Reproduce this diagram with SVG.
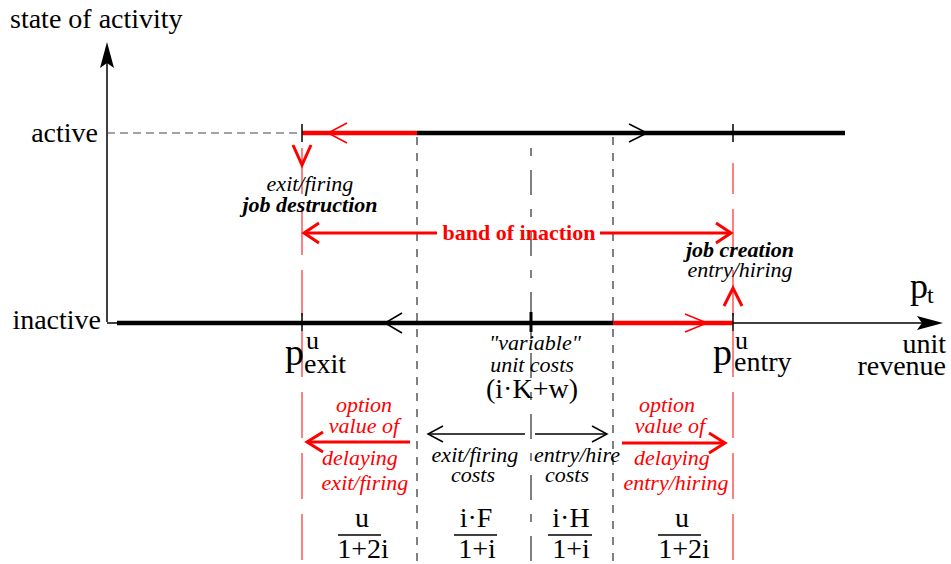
<svg xmlns="http://www.w3.org/2000/svg" width="951" height="564" viewBox="0 0 951 564">
<style>
text{font-family:"Liberation Serif","Times New Roman",serif;fill:#000}
.big{font-size:28px}
.it{font-size:22px;font-style:italic}
.bi{font-size:22px;font-style:italic;font-weight:bold}
.red{fill:#ff0000}
.mid{text-anchor:middle}
.end{text-anchor:end}
.thin{stroke:#000;stroke-width:1.5;fill:none}
.thick{stroke:#000;stroke-width:4.5;fill:none}
.rthick{stroke:#ff0000;stroke-width:4.5;fill:none}
.rarr{stroke:#ff0000;stroke-width:3;fill:none}
.rthin{stroke:#ff0000;stroke-width:1.5;fill:none}
.rdash{stroke:#ff0000;stroke-width:1;fill:none;stroke-dasharray:46 15}
.kdash{stroke:#000;stroke-width:1;fill:none;stroke-dasharray:8 8}
.cdash{stroke:#000;stroke-width:1;fill:none;stroke-dasharray:8 14 25 14}
</style>
<rect width="951" height="564" fill="#fff"/>
<g id="connectors">
  <line class="rdash" x1="302" y1="148" x2="302" y2="563"/>
  <line class="rdash" x1="733" y1="163" x2="733" y2="563" stroke-dashoffset="15"/>
  <line class="kdash" x1="417" y1="137" x2="417" y2="562"/>
  <line class="kdash" x1="613" y1="137" x2="613" y2="562"/>
  <line class="cdash" x1="531" y1="148" x2="531" y2="564"/>
  <line class="thin" x1="107" y1="322" x2="107" y2="60"/>
  <path d="M107,42 L100,68 L107,63 L114,68 Z" fill="#000"/>
  <line class="thin" x1="107" y1="323" x2="925" y2="323"/>
  <path d="M943,323 L917,316 L922,323 L917,330 Z" fill="#000"/>
  <line x1="107" y1="133" x2="302" y2="133" stroke="#444" stroke-width="1" stroke-dasharray="8 5"/>
  <line class="rthick" x1="302" y1="133" x2="417" y2="133"/>
  <line class="thick" x1="417" y1="133" x2="845" y2="133"/>
  <polyline class="rthin" points="347,123 328,133 347,143"/>
  <polyline class="thin" points="629,124 647,133 629,142"/>
  <line class="thin" x1="302" y1="124" x2="302" y2="142"/>
  <line class="thin" x1="733" y1="124" x2="733" y2="142"/>
  <line class="thick" x1="117" y1="323" x2="613" y2="323"/>
  <line class="rthick" x1="613" y1="323" x2="733" y2="323"/>
  <polyline class="thin" points="402,313 385,323 402,333"/>
  <polyline class="rthin" points="685,314 707,323 685,332"/>
  <line class="thin" x1="302" y1="313" x2="302" y2="331"/>
  <line class="thin" x1="733" y1="313" x2="733" y2="331"/>
  <line stroke="#000" stroke-width="3" x1="531" y1="312" x2="531" y2="332"/>
  <polyline class="rarr" points="293,145 302,165 311,145"/>
  <polyline class="rarr" points="724,306 733,288 742,306"/>
  <line class="rarr" x1="304" y1="233" x2="437" y2="233"/>
  <line class="rarr" x1="600" y1="233" x2="731" y2="233"/>
  <polyline class="rarr" points="319,223 304,233 319,243"/>
  <polyline class="rarr" points="716,223 731,233 716,243"/>
  <line class="rarr" x1="410" y1="442" x2="307" y2="442"/>
  <polyline class="rarr" points="323,432 307,442 323,452"/>
  <line class="rarr" x1="622" y1="443" x2="725" y2="443"/>
  <polyline class="rarr" points="709,433 725,443 709,453"/>
  <line class="thin" x1="525" y1="434" x2="428" y2="434"/>
  <polyline class="thin" points="443,426 428,434 443,442"/>
  <line class="thin" x1="535" y1="434" x2="607" y2="434"/>
  <polyline class="thin" points="592,426 607,434 592,442"/>
  <line class="thin" x1="338" y1="535" x2="381" y2="535"/>
  <line class="thin" x1="454" y1="535" x2="497" y2="535"/>
  <line class="thin" x1="548" y1="535" x2="592" y2="535"/>
  <line class="thin" x1="658" y1="535" x2="701" y2="535"/>
</g>
<g id="axis-labels">
  <text class="big" x="10" y="28">state of activity</text>
  <text class="big end" x="98" y="142">active</text>
  <text class="big end" x="101" y="329">inactive</text>
  <text x="910" y="298" font-size="36">p</text>
  <text x="927" y="303" font-size="24">t</text>
  <text class="big end" x="946" y="353">unit</text>
  <text class="big end" x="946" y="375">revenue</text>
</g>
<g id="exit-threshold">
  <text x="285" y="365" font-size="38">p</text>
  <text x="306" y="349" font-size="26">u</text>
  <text class="big" x="304" y="373">exit</text>
</g>
<g id="entry-threshold">
  <text x="713" y="365" font-size="38">p</text>
  <text x="735" y="349" font-size="26">u</text>
  <text class="big" x="734" y="371">entry</text>
</g>
<g id="exit-label">
  <text class="it mid" x="310" y="191">exit/firing</text>
  <text class="bi mid" x="310" y="212">job destruction</text>
</g>
<g id="entry-label">
  <text class="bi mid" x="740" y="257">job creation</text>
  <text class="it mid" x="740" y="277">entry/hiring</text>
</g>
<g id="band-label">
  <text class="red mid" x="519" y="240" font-size="22" font-weight="bold">band of inaction</text>
</g>
<g id="unit-costs">
  <text class="it mid" x="535" y="350">"variable"</text>
  <text class="it mid" x="532" y="372">unit costs</text>
  <text class="big mid" x="532" y="398">(i·K+w)</text>
</g>
<g id="option-exit">
  <text class="it red mid" x="364" y="412">option</text>
  <text class="it red mid" x="364" y="433">value of</text>
  <text class="it red mid" x="360" y="465">delaying</text>
  <text class="it red mid" x="365" y="490">exit/firing</text>
  <text class="big mid" x="362" y="527">u</text>
  <text class="big mid" x="363" y="558">1+2i</text>
</g>
<g id="exit-costs">
  <text class="it mid" x="475" y="462">exit/firing</text>
  <text class="it mid" x="473" y="482">costs</text>
  <text class="big mid" x="476" y="527">i·F</text>
  <text class="big mid" x="477" y="558">1+i</text>
</g>
<g id="entry-costs">
  <text class="it mid" x="577" y="462">entry/hire</text>
  <text class="it mid" x="567" y="482">costs</text>
  <text class="big mid" x="571" y="527">i·H</text>
  <text class="big mid" x="571" y="558">1+i</text>
</g>
<g id="option-entry">
  <text class="it red mid" x="667" y="412">option</text>
  <text class="it red mid" x="670" y="433">value of</text>
  <text class="it red mid" x="672" y="465">delaying</text>
  <text class="it red mid" x="676" y="490">entry/hiring</text>
  <text class="big mid" x="682" y="527">u</text>
  <text class="big mid" x="684" y="558">1+2i</text>
</g>
</svg>
